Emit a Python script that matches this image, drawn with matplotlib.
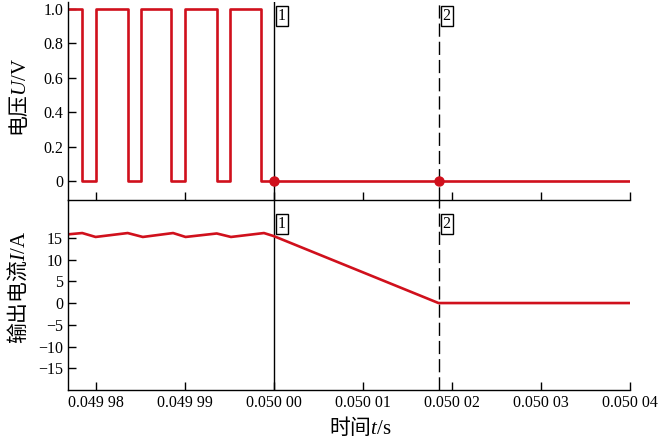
import matplotlib
matplotlib.use('Agg')
import matplotlib.pyplot as plt

plt.rcParams['font.family'] = ['Liberation Serif', 'Noto Sans CJK SC']
plt.rcParams['mathtext.fontset'] = 'custom'
plt.rcParams['mathtext.rm'] = 'Liberation Serif'
plt.rcParams['mathtext.it'] = 'Liberation Serif:italic'

# Data
v_time = [0.0499769, 0.0499785, 0.04998, 0.0499836, 0.0499851, 0.0499885,
          0.04999, 0.0499936, 0.0499951, 0.0499986, 0.05004]
v_level = [1, 0, 1, 0, 1, 0, 1, 0, 1, 0, 0]

i_time = [0.0499769, 0.0499785, 0.0499800, 0.0499836, 0.0499853, 0.0499887,
          0.0499901, 0.0499936, 0.0499952, 0.0499989, 0.05000, 0.0500185, 0.05004]
i_value = [15.8, 16.1, 15.2, 16.1, 15.2, 16.1, 15.2, 16.0, 15.2, 16.1, 15.4, 0, 0]

marker_time = [0.05000, 0.0500185]
marker_labels = ['1', '2']

x_ticks = [0.04998, 0.04999, 0.05000, 0.05001, 0.05002, 0.05003, 0.05004]
x_ticklabels = ['0.049 98', '0.049 99', '0.050 00', '0.050 01', '0.050 02', '0.050 03', '0.050 04']
v_ticks = [0, 0.2, 0.4, 0.6, 0.8, 1.0]
v_ticklabels = ['0', '0.2', '0.4', '0.6', '0.8', '1.0']
i_ticks = [-15, -10, -5, 0, 5, 10, 15]
i_ticklabels = ['\u221215', '\u221210', '\u22125', '0', '5', '10', '15']

red = '#d0101c'
cjk = 'Noto Sans CJK SC'

fig = plt.figure(figsize=(6.58, 4.43), dpi=100)
ax1 = fig.add_axes([68 / 658, 1 - 200 / 443, 562 / 658, 198 / 443])
ax2 = fig.add_axes([68 / 658, 1 - 390 / 443, 562 / 658, 190 / 443])
ax1.set_zorder(2)

for ax in (ax1, ax2):
    ax.patch.set_visible(False)
    for s in ('top', 'right'):
        ax.spines[s].set_visible(False)
    for s in ('left', 'bottom'):
        ax.spines[s].set_linewidth(1.0)
    ax.set_xlim(0.0499769, 0.05004)
    ax.set_xticks(x_ticks)
    ax.tick_params(direction='in', length=6, width=1.0, labelsize=11.5)
    ax.axvline(marker_time[0], color='black', lw=1.0)
    ax.axvline(marker_time[1], color='black', lw=1.0, dashes=(9.5, 3.6))

# top: voltage
ax1.plot(v_time, v_level, drawstyle='steps-post', color=red, lw=1.9)
ax1.plot(marker_time, [0, 0], 'o', color=red, ms=6.5)
ax1.set_ylim(-0.11, 1.038)
ax1.set_yticks(v_ticks)
ax1.set_yticklabels(v_ticklabels)
ax1.set_xticklabels([])
ax1.set_ylabel('电压$U\\mathrm{/V}$', fontsize=15, family=cjk)
ax1.yaxis.set_label_coords(-0.066, 0.52)

# bottom: current
ax2.plot(i_time, i_value, color=red, lw=1.9)
ax2.set_ylim(-20, 23.7)
ax2.set_yticks(i_ticks)
ax2.set_yticklabels(i_ticklabels)
ax2.set_xticklabels(x_ticklabels)
ax2.set_ylabel('输出电流$I\\mathrm{/A}$', fontsize=15, family=cjk)
ax2.yaxis.set_label_coords(-0.068, 0.537)
ax2.set_xlabel('时间$t\\mathrm{/s}$', fontsize=15, family=cjk)
ax2.xaxis.set_label_coords(0.521, -0.13)

box = dict(boxstyle='square,pad=0.12', fc='white', ec='black', lw=1.0)
for t, lab in zip(marker_time, marker_labels):
    ax1.annotate(lab, xy=(t, 0.957), xytext=(3, 0), textcoords='offset points',
                 ha='left', va='center', fontsize=11.5, bbox=box)
    ax2.annotate(lab, xy=(t, 18.2), xytext=(3, 0), textcoords='offset points',
                 ha='left', va='center', fontsize=11.5, bbox=box)

fig.savefig('out.png', dpi=100)
